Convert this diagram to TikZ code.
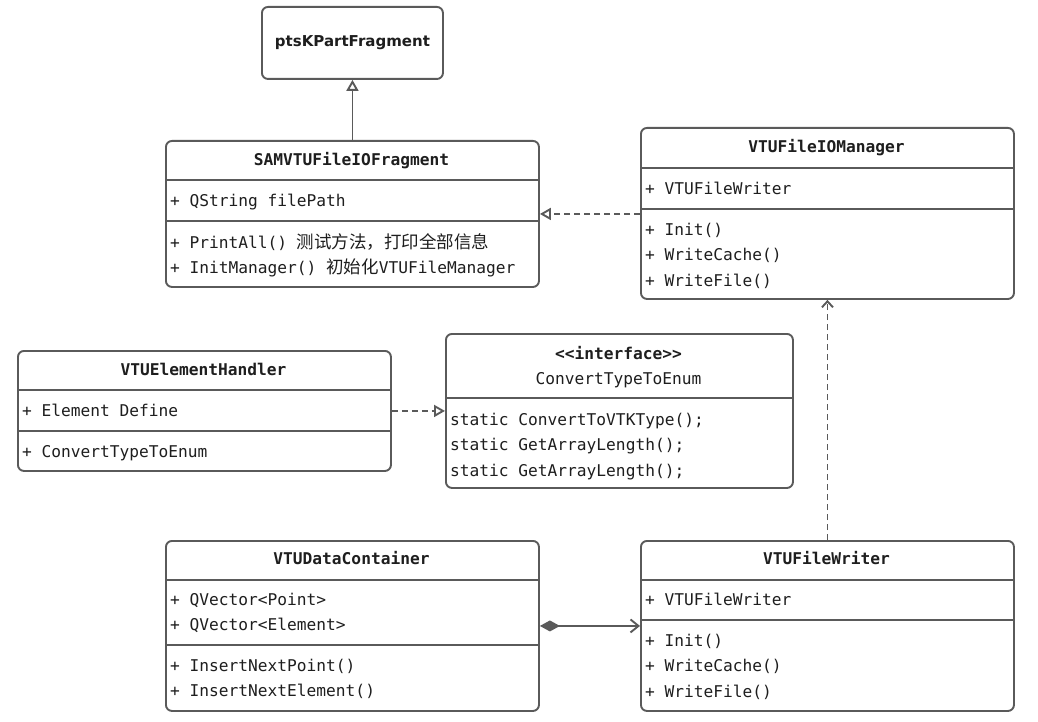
\documentclass[tikz,border=0pt]{standalone}
\usepackage{fontspec}
\setmonofont{DejaVu Sans Mono}
\newfontfamily\cjk{Noto Sans CJK SC}
\newfontfamily\headfont{DejaVu Sans}
\usetikzlibrary{arrows.meta}
\definecolor{umlline}{HTML}{5A5A5A}
\definecolor{umltext}{HTML}{1E1E1E}
\newcommand{\zh}[1]{{\cjk\fontsize{17.5}{18}\selectfont #1}}

\begin{document}
\begin{tikzpicture}[x=1pt, y=-1pt,
    cls/.style={draw=umlline, line width=1.9pt, rounded corners=6pt, fill=white, anchor=north west, inner sep=0pt},
    sep/.style={draw=umlline, line width=1.9pt},
    member/.style={anchor=west, inner sep=0pt, text height=16pt, text depth=2pt, text=umltext, font=\ttfamily\fontsize{16.2}{18}\selectfont},
    title/.style={member, anchor=center, font=\ttfamily\bfseries\fontsize{16.2}{18}\selectfont},
    link/.style={draw=umlline, line width=1.9pt},
    inherit/.style={link, -{Triangle[open, length=11pt, width=12pt]}},
    realize/.style={link, dash pattern=on 6pt off 4pt, -{Triangle[open, length=11pt, width=12pt]}},
    depend/.style={link, dash pattern=on 6pt off 4pt, -{Straight Barb[length=6pt, width=11pt]}},
    compose/.style={link, {Diamond[length=20pt, width=11pt]}-{Straight Barb[length=8pt, width=13pt]}}]

    \useasboundingbox (0,0) rectangle (1038,722);

    % base class
    \node[cls, minimum width=181pt, minimum height=72pt] (base) at (261,6) {};
    \node[text=umltext, font=\headfont\bfseries\fontsize{15}{18}\selectfont] (basename) at (base.center) {ptsKPartFragment};

    % fragment
    \node[cls, minimum width=373pt, minimum height=146pt] (sam) at (165,140) {};
    \node[title] (samname) at (351.5,159) {SAMVTUFileIOFragment};
    \draw[sep] (sam.west |- 0,180) -- (sam.east |- 0,180);
    \draw[sep] (sam.west |- 0,221) -- (sam.east |- 0,221);
    \node[member] (samattr) at (170,200) {+ QString filePath};
    \node[member] (samop1) at (170,241) {+ PrintAll() \zh{测试方法，打印全部信息}};
    \node[member] (samop2) at (170,266) {+ InitManager() \zh{初始化}VTUFileManager};

    % manager
    \node[cls, minimum width=373pt, minimum height=171pt] (manager) at (640,127) {};
    \node[title] (managername) at (826.5,146) {VTUFileIOManager};
    \draw[sep] (manager.west |- 0,168) -- (manager.east |- 0,168);
    \draw[sep] (manager.west |- 0,209) -- (manager.east |- 0,209);
    \node[member] (managerattr) at (645,187) {+ VTUFileWriter};
    \node[member] (managerop1) at (645,228) {+ Init()};
    \node[member] (managerop2) at (645,253) {+ WriteCache()};
    \node[member] (managerop3) at (645,279) {+ WriteFile()};

    % element handler
    \node[cls, minimum width=373pt, minimum height=120pt] (handler) at (17,350) {};
    \node[title] (handlername) at (203.5,368) {VTUElementHandler};
    \draw[sep] (handler.west |- 0,390) -- (handler.east |- 0,390);
    \draw[sep] (handler.west |- 0,431) -- (handler.east |- 0,431);
    \node[member] (handlerattr) at (22,409) {+ Element Define};
    \node[member] (handlerop) at (22,450) {+ ConvertTypeToEnum};

    % interface
    \node[cls, minimum width=347pt, minimum height=154pt] (iface) at (445,333) {};
    \node[title] (ifacetag) at (618.5,352) {<<interface>>};
    \node[member, anchor=center] (ifacename) at (618.5,377) {ConvertTypeToEnum};
    \draw[sep] (iface.west |- 0,398) -- (iface.east |- 0,398);
    \node[member] (ifaceop1) at (450,418) {static ConvertToVTKType();};
    \node[member] (ifaceop2) at (450,443) {static GetArrayLength();};
    \node[member] (ifaceop3) at (450,469) {static GetArrayLength();};

    % data container
    \node[cls, minimum width=373pt, minimum height=170pt] (container) at (165,540) {};
    \node[title] (containername) at (351.5,557) {VTUDataContainer};
    \draw[sep] (container.west |- 0,580) -- (container.east |- 0,580);
    \draw[sep] (container.west |- 0,645) -- (container.east |- 0,645);
    \node[member] (containerattr1) at (170,598) {+ QVector<Point>};
    \node[member] (containerattr2) at (170,623) {+ QVector<Element>};
    \node[member] (containerop1) at (170,664) {+ InsertNextPoint()};
    \node[member] (containerop2) at (170,689) {+ InsertNextElement()};

    % writer
    \node[cls, minimum width=373pt, minimum height=170pt] (writer) at (640,540) {};
    \node[title] (writername) at (826.5,557) {VTUFileWriter};
    \draw[sep] (writer.west |- 0,580) -- (writer.east |- 0,580);
    \draw[sep] (writer.west |- 0,620) -- (writer.east |- 0,620);
    \node[member] (writerattr) at (645,598) {+ VTUFileWriter};
    \node[member] (writerop1) at (645,639) {+ Init()};
    \node[member] (writerop2) at (645,664) {+ WriteCache()};
    \node[member] (writerop3) at (645,690) {+ WriteFile()};

    % relations
    \draw[inherit] (sam.north) -- (base.south);
    \draw[realize] (manager.west |- sam.east) -- (sam.east);
    \draw[realize] (handler.east) -- (iface.west |- handler.east);
    \draw[depend] (writer.north) -- (manager.south);
    \draw[compose] (container.east) -- (writer.west |- container.east);
\end{tikzpicture}
\end{document}
